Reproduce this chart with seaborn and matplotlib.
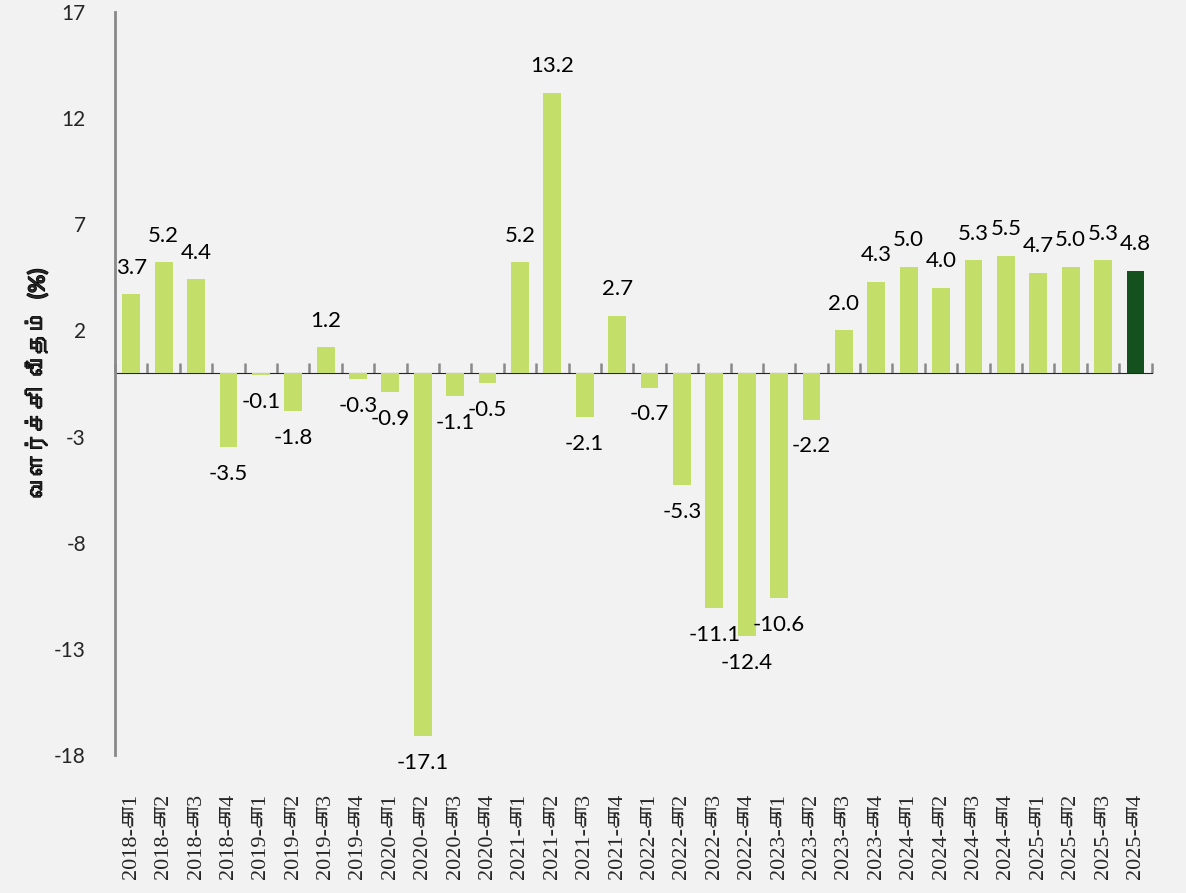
import numpy as np
import seaborn as sns
import matplotlib.pyplot as plt
import matplotlib.patheffects as pe
from matplotlib import font_manager
from matplotlib.ft2font import FT2Font

# find a font that can draw Tamil letters
TAMIL_FONT = None
for f in font_manager.fontManager.ttflist:
    try:
        if 0x0B95 in FT2Font(f.fname).get_charmap():
            TAMIL_FONT = f.name
            break
    except Exception:
        pass

years = ['2018', '2019', '2020', '2021', '2022', '2023', '2024', '2025']
quarters = ['கா1', 'கா2', 'கா3', 'கா4']
labels = [y + '-' + q for y in years for q in quarters]
growth = [3.7, 5.2, 4.4, -3.5,
          -0.1, -1.8, 1.2, -0.3,
          -0.9, -17.1, -1.1, -0.5,
          5.2, 13.2, -2.1, 2.7,
          -0.7, -5.3, -11.1, -12.4,
          -10.6, -2.2, 2.0, 4.3,
          5.0, 4.0, 5.3, 5.5,
          4.7, 5.0, 5.3, 4.8]
y_ticks = [17, 12, 7, 2, -3, -8, -13, -18]

LIGHT = '#C4DE6A'
DARK = '#15501F'
GREY = '#898989'
BG = '#F2F2F2'

sns.set_style('white')
sans = ['Lato'] + ([TAMIL_FONT] if TAMIL_FONT else [])
serif = ['Liberation Serif'] + ([TAMIL_FONT] if TAMIL_FONT else [])
plt.rcParams['font.family'] = sans
plt.rcParams['axes.unicode_minus'] = False

colors = [LIGHT] * (len(labels) - 1) + [DARK]

fig = plt.figure(figsize=(11.86, 8.93), dpi=100, facecolor=BG)
ax = fig.add_axes([0.097, 0.1546, 0.874, 0.832])
ax.set_facecolor(BG)

sns.barplot(x=labels, y=growth, hue=labels, palette=colors, legend=False,
            width=0.55, saturation=1, linewidth=0, ax=ax)

for c in ax.containers:
    ax.bar_label(c, fmt='%.1f', padding=12, fontsize=16, color='black')

ax.set_ylim(-18, 17)
ax.set_xlim(-0.5, len(labels) - 0.5)
ax.set_yticks(y_ticks)
ax.tick_params(axis='y', length=6, width=1.8, color=GREY, labelsize=15, pad=15)
ax.tick_params(axis='x', length=0, pad=28)
ax.set_xticks(range(len(labels)))
ax.set_xticklabels(labels, rotation=90, fontsize=16, family=serif, va='top')

for s in ['top', 'right', 'bottom']:
    ax.spines[s].set_visible(False)
ax.spines['left'].set_color(GREY)
ax.spines['left'].set_linewidth(2)

# zero line with category separators
zero = (0 - (-18)) / (17 - (-18))
sec = ax.secondary_xaxis(zero)
sec.set_xticks(np.arange(-0.5, len(labels), 1))
sec.set_xticklabels([])
sec.tick_params(length=7, width=1.8, color=GREY, direction='out')
sec.spines['bottom'].set_color(GREY)
sec.spines['bottom'].set_linewidth(2)

ylab = ax.set_ylabel('வளர்ச்சி  வீதம்  (%)', fontsize=16, fontweight='bold', labelpad=4)
ylab.set_path_effects([pe.withStroke(linewidth=0.9, foreground='black')])

fig.savefig('out.png', dpi=100, facecolor=BG)
